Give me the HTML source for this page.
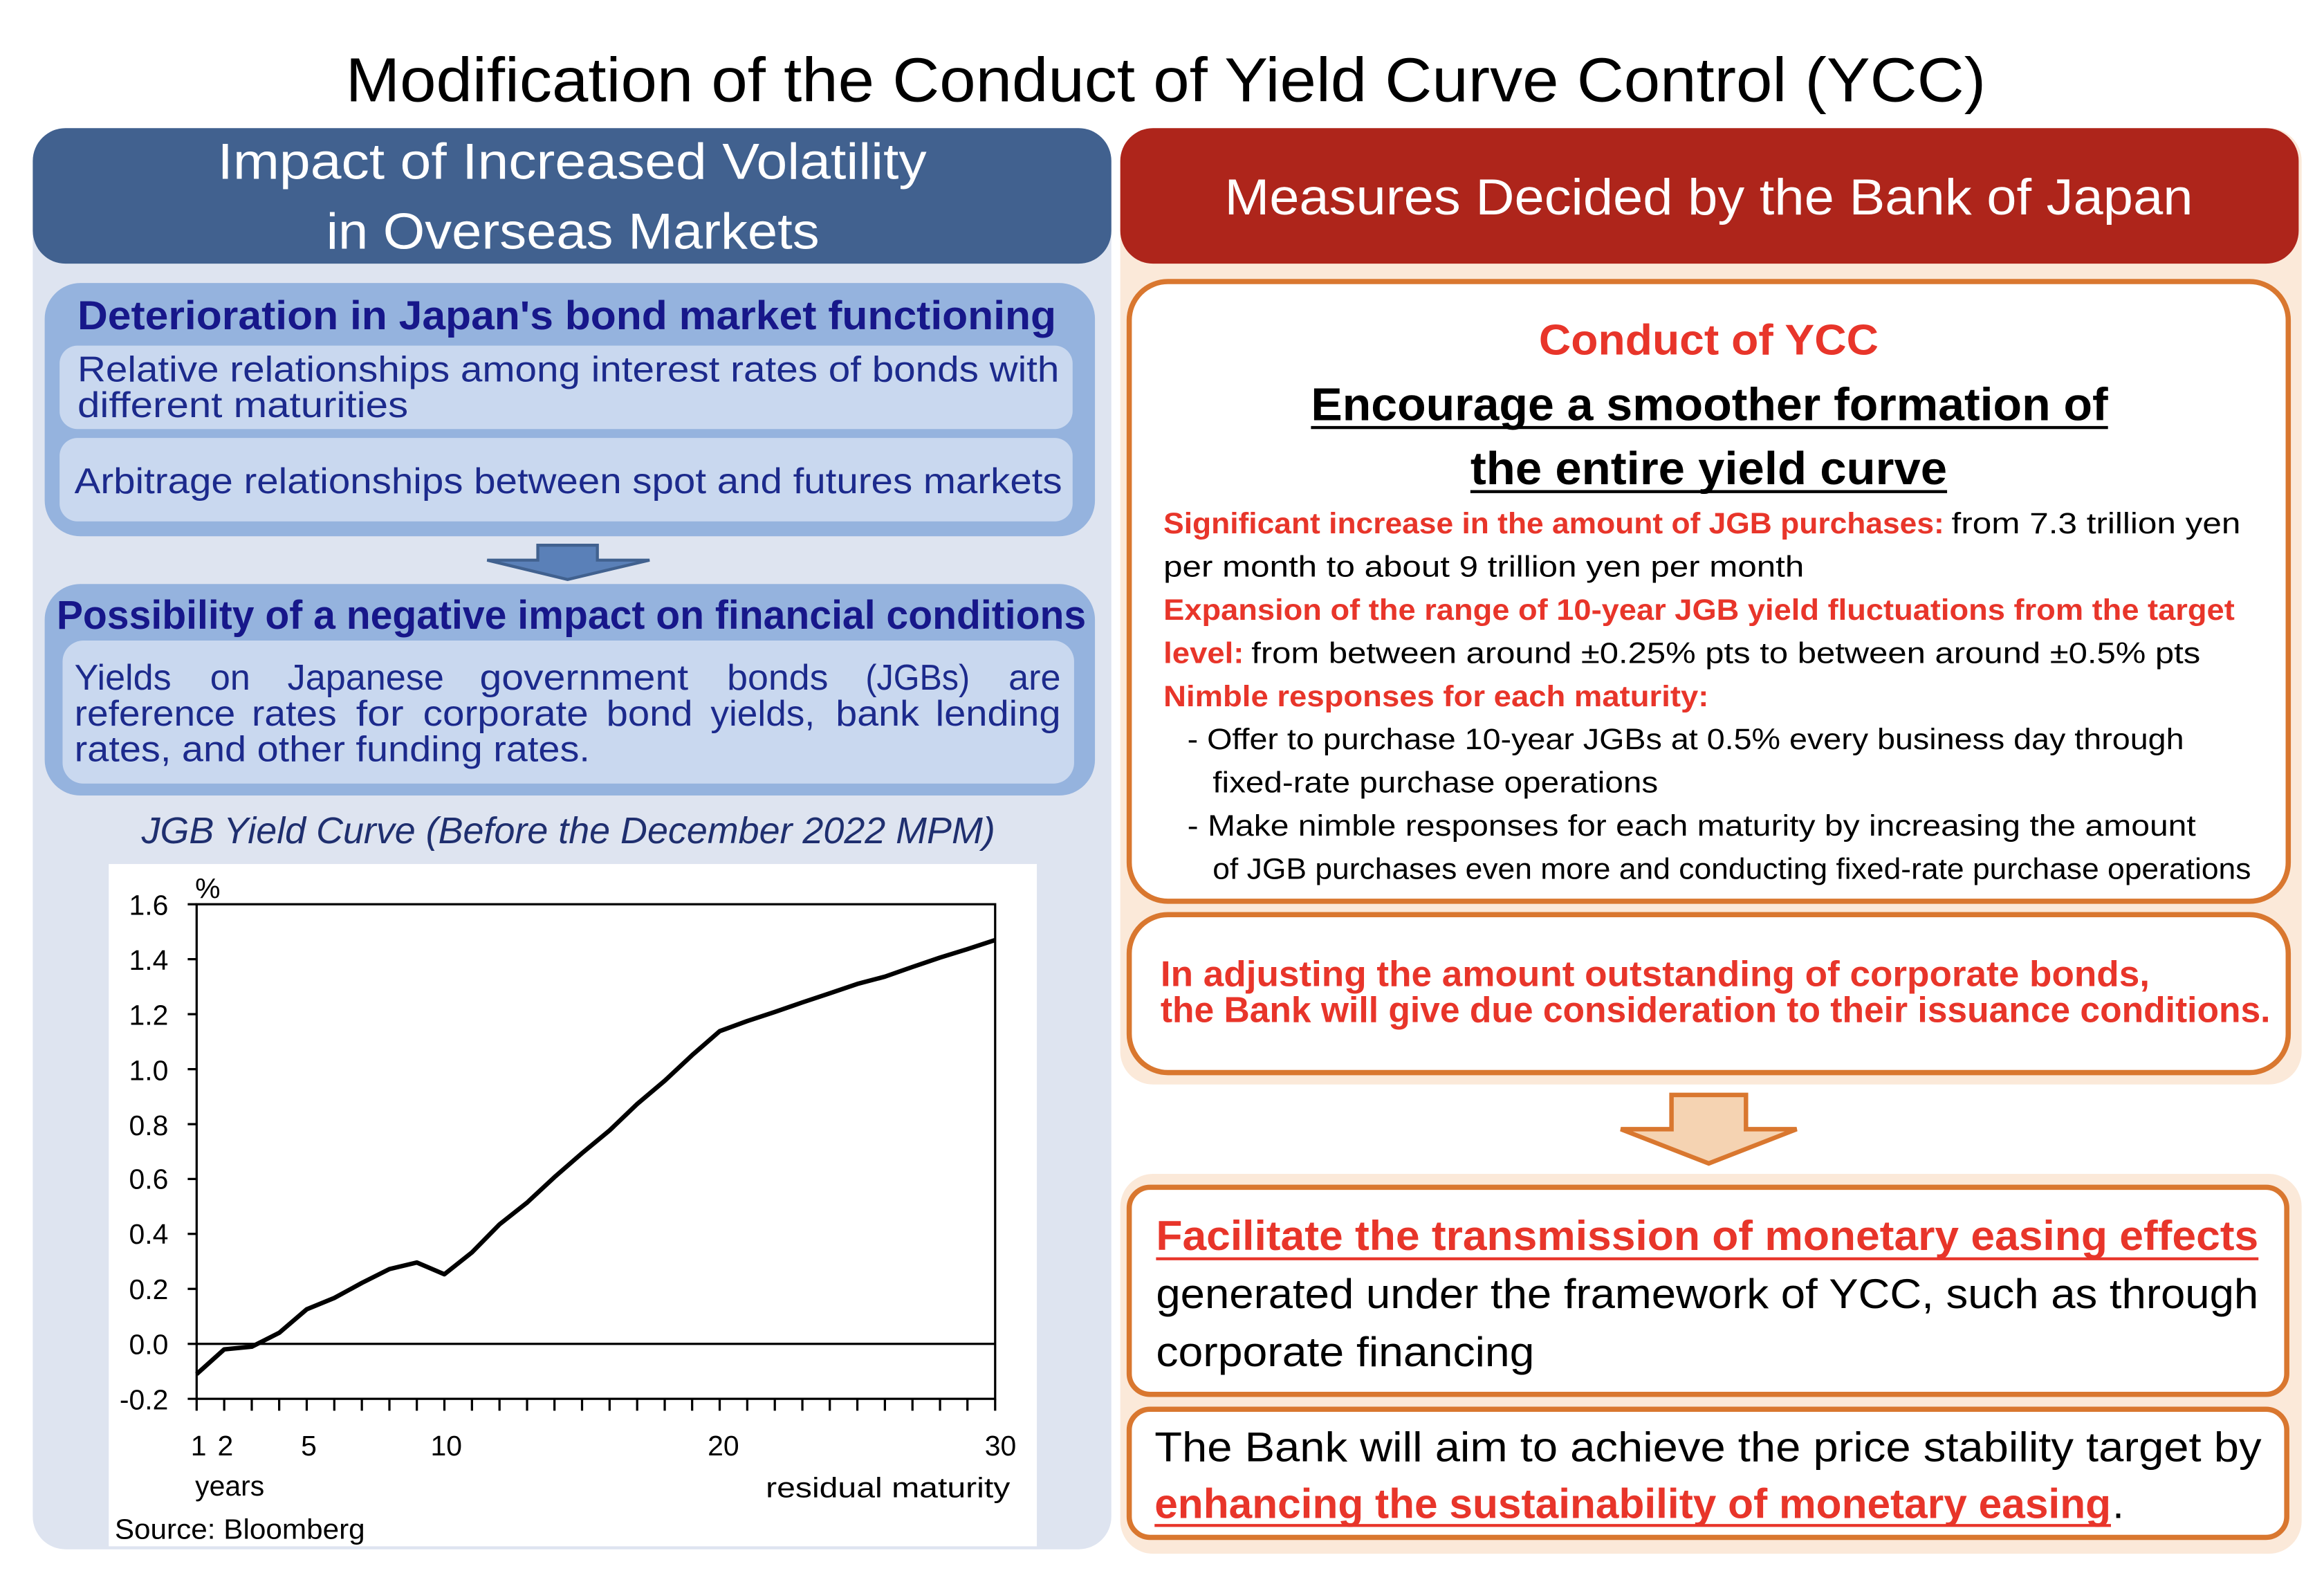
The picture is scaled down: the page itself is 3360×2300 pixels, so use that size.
<!DOCTYPE html>
<html><head><meta charset="utf-8"><style>
html,body{margin:0;padding:0;background:#fff}
svg{display:block}
text{font-family:"Liberation Sans",sans-serif}
.b{font-weight:bold}
</style></head><body>
<svg xmlns="http://www.w3.org/2000/svg" width="3360" height="2300" viewBox="0 0 1560 1068" preserveAspectRatio="none">
<rect width="1560" height="1068" fill="#fff"/>
<text x="232" y="68" font-size="42" textLength="1101" lengthAdjust="spacingAndGlyphs" fill="#000">Modification of the Conduct of Yield Curve Control (YCC)</text>

<!-- LEFT PANEL -->
<rect x="22" y="86" width="724" height="954" rx="22" fill="#dee4f0"/>
<rect x="22" y="86" width="724" height="91" rx="22" fill="#41618f"/>
<text x="146" y="120" font-size="34" fill="#fff" textLength="476" lengthAdjust="spacingAndGlyphs">Impact of Increased Volatility</text>
<text x="219" y="167" font-size="34" fill="#fff" textLength="331" lengthAdjust="spacingAndGlyphs">in Overseas Markets</text>

<rect x="30" y="190" width="705" height="170" rx="24" fill="#95b3de"/>
<text class="b" x="52" y="221" font-size="27" fill="#17178a" textLength="657" lengthAdjust="spacingAndGlyphs">Deterioration in Japan's bond market functioning</text>
<rect x="40" y="232" width="680" height="56" rx="12" fill="#c9d8ef"/>
<text x="52" y="256" font-size="24" fill="#1c2a8c" textLength="659" lengthAdjust="spacingAndGlyphs">Relative relationships among interest rates of bonds with</text>
<text x="52" y="280" font-size="24" fill="#1c2a8c" textLength="222" lengthAdjust="spacingAndGlyphs">different maturities</text>
<rect x="40" y="294" width="680" height="56" rx="12" fill="#c9d8ef"/>
<text x="50" y="331" font-size="24" fill="#1c2a8c" textLength="663" lengthAdjust="spacingAndGlyphs">Arbitrage relationships between spot and futures markets</text>

<polygon points="361,366 401,366 401,376 436,376 381,389 327,376 361,376" fill="#5a80b8" stroke="#41618f" stroke-width="2"/>

<rect x="30" y="392" width="705" height="142" rx="24" fill="#95b3de"/>
<text class="b" x="38" y="422" font-size="27" fill="#17178a" textLength="691" lengthAdjust="spacingAndGlyphs">Possibility of a negative impact on financial conditions</text>
<rect x="42" y="430" width="679" height="96" rx="14" fill="#c9d8ef"/>
<g font-size="24" fill="#1c2a8c">
<text x="50" y="463" textLength="65" lengthAdjust="spacingAndGlyphs">Yields</text>
<text x="141" y="463" textLength="27" lengthAdjust="spacingAndGlyphs">on</text>
<text x="193" y="463" textLength="105" lengthAdjust="spacingAndGlyphs">Japanese</text>
<text x="322" y="463" textLength="140" lengthAdjust="spacingAndGlyphs">government</text>
<text x="488" y="463" textLength="68" lengthAdjust="spacingAndGlyphs">bonds</text>
<text x="581" y="463" textLength="70" lengthAdjust="spacingAndGlyphs">(JGBs)</text>
<text x="677" y="463" textLength="35" lengthAdjust="spacingAndGlyphs">are</text>
<text x="50" y="487" textLength="108" lengthAdjust="spacingAndGlyphs">reference</text>
<text x="169" y="487" textLength="57" lengthAdjust="spacingAndGlyphs">rates</text>
<text x="239" y="487" textLength="32" lengthAdjust="spacingAndGlyphs">for</text>
<text x="284" y="487" textLength="111" lengthAdjust="spacingAndGlyphs">corporate</text>
<text x="407" y="487" textLength="58" lengthAdjust="spacingAndGlyphs">bond</text>
<text x="477" y="487" textLength="70" lengthAdjust="spacingAndGlyphs">yields,</text>
<text x="561" y="487" textLength="56" lengthAdjust="spacingAndGlyphs">bank</text>
<text x="628" y="487" textLength="84" lengthAdjust="spacingAndGlyphs">lending</text>
<text x="50" y="511" textLength="346" lengthAdjust="spacingAndGlyphs">rates, and other funding rates.</text>
</g>

<text x="95" y="566" font-size="25" font-style="italic" fill="#1f2f6f" textLength="573" lengthAdjust="spacingAndGlyphs">JGB Yield Curve (Before the December 2022 MPM)</text>

<!-- CHART -->
<rect x="73" y="580" width="623" height="458" fill="#fff"/>
<g stroke="#000" stroke-width="1.5" fill="none">
<rect x="132" y="607" width="536" height="332"/>
<line x1="132" y1="902.1" x2="668" y2="902.1"/>
<path d="M126 607h6M126 643.9h6M126 680.8h6M126 717.7h6M126 754.6h6M126 791.4h6M126 828.3h6M126 865.2h6M126 902.1h6M126 939h6"/>
<path d="M132 939v8M150.5 939v8M169 939v8M187.4 939v8M205.9 939v8M224.4 939v8M242.9 939v8M261.4 939v8M279.8 939v8M298.3 939v8M316.8 939v8M335.3 939v8M353.8 939v8M372.2 939v8M390.7 939v8M409.2 939v8M427.7 939v8M446.2 939v8M464.6 939v8M483.1 939v8M501.6 939v8M520.1 939v8M538.6 939v8M557 939v8M575.5 939v8M594 939v8M612.5 939v8M631 939v8M649.4 939v8M668 939v8"/>
</g>
<polyline fill="none" stroke="#000" stroke-width="3" stroke-linejoin="round" points="132,922.4 150.5,905.8 169,904 187.4,894.7 205.9,878.9 224.4,871.3 242.9,861.2 261.4,851.9 279.8,847.5 298.3,855.4 316.8,840.7 335.3,821.9 353.8,807.3 372.2,790.2 390.7,774.1 409.2,758.8 427.7,741.1 446.2,725.5 464.6,708.3 483.1,692.2 501.6,685.4 520.1,679.3 538.6,672.9 557,666.8 575.5,660.5 594,655.6 612.5,649.1 631,642.8 649.4,637.1 668,631"/>
<g font-size="19" fill="#000" text-anchor="end">
<text x="113" y="614">1.6</text><text x="113" y="651">1.4</text><text x="113" y="688">1.2</text><text x="113" y="725">1.0</text><text x="113" y="762">0.8</text><text x="113" y="798">0.6</text><text x="113" y="835">0.4</text><text x="113" y="872">0.2</text><text x="113" y="909">0.0</text><text x="113" y="946">-0.2</text>
</g>
<g font-size="19" fill="#000">
<text x="131" y="603">%</text>
<text x="128" y="977">1</text><text x="146" y="977">2</text><text x="202" y="977">5</text><text x="289" y="977">10</text><text x="475" y="977">20</text><text x="661" y="977">30</text>
<text x="131" y="1004">years</text>
<text x="514" y="1005" textLength="164" lengthAdjust="spacingAndGlyphs">residual maturity</text>
<text x="77" y="1033" textLength="168" lengthAdjust="spacingAndGlyphs">Source:  Bloomberg</text>
</g>

<!-- RIGHT PANEL -->
<rect x="752" y="86" width="793" height="642" rx="22" fill="#fbe9d9"/>
<rect x="752" y="86" width="791" height="91" rx="22" fill="#ae251b"/>
<text x="822" y="144" font-size="34" fill="#fff" textLength="650" lengthAdjust="spacingAndGlyphs">Measures Decided by the Bank of Japan</text>

<rect x="758" y="189" width="778" height="416" rx="26" fill="#fff" stroke="#d9772f" stroke-width="3.5"/>
<text class="b" x="1147" y="238" font-size="29" fill="#e8352a" text-anchor="middle" textLength="228" lengthAdjust="spacingAndGlyphs">Conduct of YCC</text>
<text class="b" x="880" y="282" font-size="31" fill="#000" textLength="535" lengthAdjust="spacingAndGlyphs">Encourage a smoother formation of</text>
<line x1="880" y1="287" x2="1415" y2="287" stroke="#000" stroke-width="2"/>
<text class="b" x="987" y="325" font-size="31" fill="#000" textLength="320" lengthAdjust="spacingAndGlyphs">the entire yield curve</text>
<line x1="987" y1="330" x2="1307" y2="330" stroke="#000" stroke-width="2"/>
<g font-size="20">
<text class="b" x="781" y="358" fill="#e8352a" textLength="524" lengthAdjust="spacingAndGlyphs">Significant increase in the amount of JGB purchases:</text>
<text x="1310" y="358" fill="#000" textLength="194" lengthAdjust="spacingAndGlyphs">from 7.3 trillion yen</text>
<text x="781" y="387" fill="#000" textLength="430" lengthAdjust="spacingAndGlyphs">per month to about 9 trillion yen per month</text>
<text class="b" x="781" y="416" fill="#e8352a" textLength="719" lengthAdjust="spacingAndGlyphs">Expansion of the range of 10-year JGB yield fluctuations from the target</text>
<text class="b" x="781" y="445" fill="#e8352a" textLength="54" lengthAdjust="spacingAndGlyphs">level:</text>
<text x="840" y="445" fill="#000" textLength="637" lengthAdjust="spacingAndGlyphs">from between around ±0.25% pts to between around ±0.5% pts</text>
<text class="b" x="781" y="474" fill="#e8352a" textLength="366" lengthAdjust="spacingAndGlyphs">Nimble responses for each maturity:</text>
<text x="797" y="503" fill="#000" textLength="669" lengthAdjust="spacingAndGlyphs">- Offer to purchase 10-year JGBs at 0.5% every business day through</text>
<text x="814" y="532" fill="#000" textLength="299" lengthAdjust="spacingAndGlyphs">fixed-rate purchase operations</text>
<text x="797" y="561" fill="#000" textLength="677" lengthAdjust="spacingAndGlyphs">- Make nimble responses for each maturity by increasing the amount</text>
<text x="814" y="590" fill="#000" textLength="697" lengthAdjust="spacingAndGlyphs">of JGB purchases even more and conducting fixed-rate purchase operations</text>
</g>

<rect x="758" y="614" width="778" height="106" rx="26" fill="#fff" stroke="#d9772f" stroke-width="3.5"/>
<text class="b" x="779" y="662" font-size="24" fill="#e8352a" textLength="664" lengthAdjust="spacingAndGlyphs">In adjusting the amount outstanding of corporate bonds,</text>
<text class="b" x="779" y="686" font-size="24" fill="#e8352a" textLength="745" lengthAdjust="spacingAndGlyphs">the Bank will give due consideration to their issuance conditions.</text>

<polygon points="1122,735 1172,735 1172,758 1206,758 1147,781 1088,758 1122,758" fill="#f5d3b2" stroke="#d9772f" stroke-width="3"/>

<rect x="752" y="788" width="793" height="255" rx="22" fill="#fbe9d9"/>
<rect x="758" y="797" width="777" height="139" rx="14" fill="#fff" stroke="#d9772f" stroke-width="3.5"/>
<text class="b" x="776" y="839" font-size="28" fill="#e8352a" textLength="740" lengthAdjust="spacingAndGlyphs">Facilitate the transmission of monetary easing effects</text>
<line x1="776" y1="845" x2="1516" y2="845" stroke="#e8352a" stroke-width="2"/>
<text x="776" y="878" font-size="28" fill="#000" textLength="740" lengthAdjust="spacingAndGlyphs">generated under the framework of YCC, such as through</text>
<text x="776" y="917" font-size="28" fill="#000" textLength="254" lengthAdjust="spacingAndGlyphs">corporate financing</text>

<rect x="758" y="946" width="777" height="86" rx="14" fill="#fff" stroke="#d9772f" stroke-width="3.5"/>
<text x="775" y="981" font-size="28" fill="#000" textLength="743" lengthAdjust="spacingAndGlyphs">The Bank will aim to achieve the price stability target by</text>
<text class="b" x="775" y="1019" font-size="28" fill="#e8352a" textLength="642" lengthAdjust="spacingAndGlyphs">enhancing the sustainability of monetary easing</text>
<line x1="775" y1="1024" x2="1417" y2="1024" stroke="#e8352a" stroke-width="2"/>
<text x="1418" y="1019" font-size="28" fill="#000">.</text>
</svg>
</body></html>
